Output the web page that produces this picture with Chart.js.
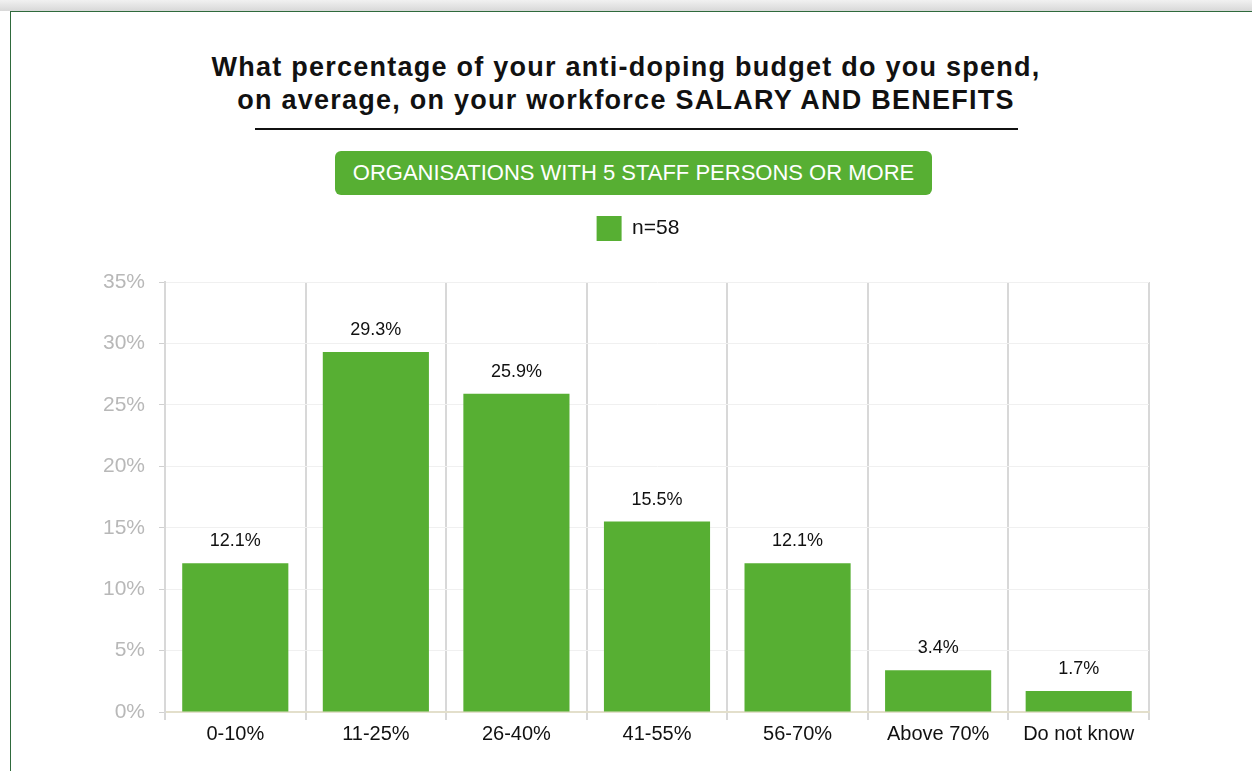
<!DOCTYPE html>
<html>
<head>
<meta charset="utf-8">
<script src="https://cdn.jsdelivr.net/npm/chart.js@4/dist/chart.umd.min.js"></script>
<style>
  html, body { margin: 0; padding: 0; width: 1252px; height: 771px; overflow: hidden; background: #fff; font-family: "Liberation Sans", Arial, sans-serif; }
  .topbar { position: absolute; left: 0; top: 0; width: 1252px; height: 11px; background: linear-gradient(#f1f1f1, #d8d8d8); }
  .frame { position: absolute; left: 10px; top: 11px; width: 1300px; height: 800px; border: 1px solid #2f6a3c; border-right: none; border-bottom: none; background: #fff; }
  .title { position: absolute; left: 0; width: 1252px; top: 51px; text-align: center; font-weight: bold; font-size: 27px; letter-spacing: 1.25px; line-height: 33px; color: #111; }
  .rule { position: absolute; left: 255px; top: 128px; width: 763px; height: 2px; background: #111; }
  .badge { position: absolute; left: 335px; top: 151px; width: 597px; height: 44px; border-radius: 6px; background: #57af33; color: #fff; font-size: 22px; line-height: 44px; text-align: center; }
  #wrap { position: absolute; left: 0; top: 205px; width: 1252px; height: 566px; }
</style>
</head>
<body>
<div class="topbar"></div>
<div class="frame"></div>
<div class="title">What percentage of your anti-doping budget do you spend,<br>on average, on your workforce SALARY AND BENEFITS</div>
<div class="rule"></div>
<div class="badge">ORGANISATIONS WITH 5 STAFF PERSONS OR MORE</div>
<div id="wrap"><canvas id="chart"></canvas></div>
<script>
const categories = ['0-10%', '11-25%', '26-40%', '41-55%', '56-70%', 'Above 70%', 'Do not know'];
const shares = [12.1, 29.3, 25.9, 15.5, 12.1, 3.4, 1.7];
const seriesName = 'n=58';
const yTicks = [0, 5, 10, 15, 20, 25, 30, 35];

const GREEN = '#57af33';
const FONT = '"Liberation Sans", Arial, sans-serif';

// writes each bar's share just above it
const valueLabels = {
  id: 'valueLabels',
  afterDatasetsDraw(chart) {
    const ctx = chart.ctx;
    const meta = chart.getDatasetMeta(0);
    ctx.save();
    ctx.font = '18px ' + FONT;
    ctx.fillStyle = '#111';
    ctx.textAlign = 'center';
    ctx.textBaseline = 'middle';
    meta.data.forEach((bar, i) => {
      ctx.fillText(shares[i].toFixed(1) + '%', bar.x, bar.y - 22);
    });
    ctx.restore();
  }
};

// empty spacer axes: one keeps a gap under the legend, one reserves room on the right
const spacer = () => ({
  display: true,
  grid: { display: false },
  border: { display: false },
  ticks: { display: false }
});

new Chart(document.getElementById('chart'), {
  type: 'bar',
  data: {
    labels: categories,
    datasets: [{
      label: seriesName,
      data: shares,
      backgroundColor: GREEN,
      borderWidth: 0,
      barPercentage: 0.755,
      categoryPercentage: 1,
      xAxisID: 'x',
      yAxisID: 'y'
    }]
  },
  options: {
    responsive: true,
    maintainAspectRatio: false,
    animation: false,
    layout: { padding: { left: 24, right: 0, top: 0, bottom: 23 } },
    plugins: {
      legend: {
        display: true,
        position: 'top',
        labels: {
          boxWidth: 25,
          boxHeight: 25,
          padding: 11,
          color: '#111',
          font: { size: 21, family: FONT }
        }
      },
      tooltip: { enabled: false }
    },
    scales: {
      x: {
        grid: { display: true, offset: true, color: '#d8d8d8', lineWidth: 2, tickLength: 8, drawTicks: true },
        border: { display: true, color: '#e3dfcb', width: 2 },
        ticks: { color: '#111', padding: 2, font: { size: 20, family: FONT } }
      },
      xGap: Object.assign(spacer(), {
        type: 'category',
        position: 'top',
        afterFit(scale) { scale.height = 31; }
      }),
      y: {
        min: 0,
        max: 35,
        afterFit(scale) { scale.width = 141; },
        afterBuildTicks(scale) { scale.ticks = yTicks.map(v => ({ value: v })); },
        grid: { color: '#f0f0f0', lineWidth: 1, tickLength: 6, tickColor: '#d0d0d0' },
        border: { display: true, color: '#d8d8d8', width: 2 },
        ticks: {
          color: '#b8b8b8',
          padding: 14,
          font: { size: 21, family: FONT },
          callback: v => v + '%'
        }
      },
      yGap: Object.assign(spacer(), {
        type: 'linear',
        position: 'right',
        afterFit(scale) { scale.width = 103; }
      })
    }
  },
  plugins: [valueLabels]
});
</script>
</body>
</html>
